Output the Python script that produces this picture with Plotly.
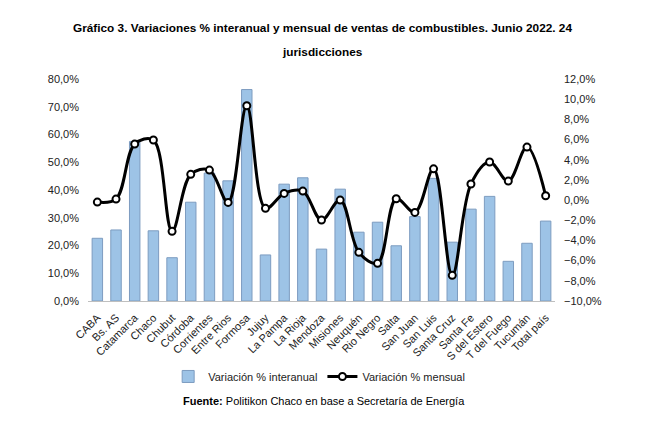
import plotly.graph_objects as go

# Datos
provincias = ['CABA', 'Bs. AS', 'Catamarca', 'Chaco', 'Chubut', 'Córdoba', 'Corrientes',
              'Entre Rios', 'Formosa', 'Jujuy', 'La Pampa', 'La Rioja', 'Mendoza', 'Misiones',
              'Neuquén', 'Rio Negro', 'Salta', 'San Juan', 'San Luis', 'Santa Cruz', 'Santa Fe',
              'S del Estero', 'T del Fuego', 'Tucumán', 'Total país']
var_interanual = [22.6, 25.6, 57.5, 25.3, 15.6, 35.6, 46.1, 43.3, 76.2, 16.6, 42.1, 44.4,
                  18.7, 40.3, 24.8, 28.4, 19.9, 30.4, 44.2, 21.2, 33.1, 37.7, 14.3, 20.8, 28.8]
var_mensual = [-0.2, 0.1, 5.55, 5.95, -3.1, 2.55, 2.97, -0.23, 9.35, -0.82, 0.66, 0.89,
               -1.98, 0.0, -5.18, -6.27, 0.13, -1.22, 3.1, -7.46, 1.59, 3.77, 1.88, 5.25, 0.43]

font_main = "Liberation Sans, Arial, sans-serif"

fig = go.Figure()

fig.add_trace(go.Bar(
    x=provincias, y=var_interanual, name='Variación % interanual',
    marker=dict(color='#9dc3e6', line=dict(color='#7d9cc0', width=1)),
    yaxis='y'
))

fig.add_trace(go.Scatter(
    x=provincias, y=var_mensual, name='Variación % mensual',
    mode='lines+markers',
    line=dict(color='black', width=3, shape='spline', smoothing=1.0),
    marker=dict(size=7, color='white', line=dict(color='black', width=2)),
    yaxis='y2'
))

# la página añade ~8px de margen, por eso la figura es 644x416
fig.update_layout(
    width=644, height=416,
    margin=dict(l=80, r=97, t=71, b=123, autoexpand=False),
    paper_bgcolor='white', plot_bgcolor='white',
    font=dict(family=font_main, size=11, color='#222222'),
    separators=',.',
    bargap=0.44,
    showlegend=True,
    legend=dict(orientation='h', x=0.495, xanchor='center', y=-0.34, yanchor='middle',
                font=dict(size=11, color='#222222'), itemwidth=30,
                traceorder='normal', bgcolor='rgba(0,0,0,0)'),
    xaxis=dict(tickangle=-45, showgrid=False, showline=True, linecolor='#bfbfbf',
               linewidth=1, ticks='', tickfont=dict(size=11), automargin=False,
               range=[-0.5, len(provincias) - 0.5], ticklabelstandoff=5),
    yaxis=dict(range=[0, 80], dtick=10, tickformat='.1f', ticksuffix='%',
               showgrid=False, zeroline=False, showline=False, ticks='',
               automargin=False, ticklabelstandoff=8),
    yaxis2=dict(range=[-10, 12], dtick=2, tickformat='.1f', ticksuffix='%',
                overlaying='y', side='right', showgrid=False, zeroline=False,
                showline=False, ticks='', automargin=False, ticklabelstandoff=8),
    annotations=[
        dict(text='<b>Gráfico 3. Variaciones % interanual y mensual de ventas de combustibles. Junio 2022. 24</b>',
             xref='paper', yref='paper', x=0.503, y=1.23, xanchor='center', yanchor='middle',
             showarrow=False, font=dict(size=11.8, color='black')),
        dict(text='<b>jurisdicciones</b>',
             xref='paper', yref='paper', x=0.503, y=1.12, xanchor='center', yanchor='middle',
             showarrow=False, font=dict(size=11.8, color='black')),
        dict(text='<b>Fuente:</b> Politikon Chaco en base a Secretaría de Energía',
             xref='paper', yref='paper', x=0.505, y=-0.45, xanchor='center', yanchor='middle',
             showarrow=False, font=dict(size=11, color='black')),
    ],
)

fig.write_html("out.html")
